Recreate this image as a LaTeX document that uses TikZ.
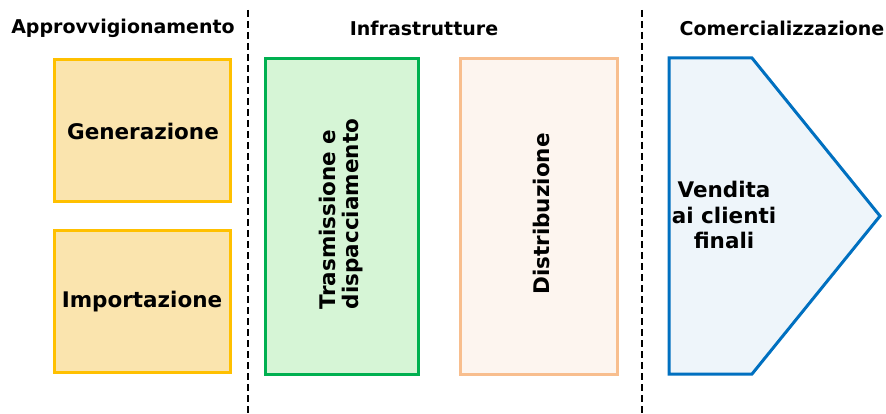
\documentclass[tikz,border=0pt]{standalone}
\usepackage{fontspec}
\setmainfont{DejaVu Sans}
\definecolor{yelB}{HTML}{FFC000}
\definecolor{yelF}{HTML}{FAE4AE}
\definecolor{grnB}{HTML}{00B050}
\definecolor{grnF}{HTML}{D6F5D6}
\definecolor{orgB}{HTML}{F8BE8E}
\definecolor{orgF}{HTML}{FDF5EF}
\definecolor{bluB}{HTML}{0070C0}
\definecolor{bluF}{HTML}{EEF5FA}
\begin{document}
\begin{tikzpicture}[x=1pt,y=-1pt,
  hdr/.style={font=\bfseries\fontsize{19}{22}\selectfont, anchor=center},
  box/.style={line width=3pt},
  lbl/.style={font=\bfseries\fontsize{21.5}{25}\selectfont, align=center},
  sep/.style={line width=1.3pt, dash pattern=on 7pt off 4pt}]
\useasboundingbox (0,0) rectangle (886,414);
\fill[white] (0,0) rectangle (886,414);
% separators
\coordinate (s1t) at (248,10); \coordinate (s1b) at (248,414);
\coordinate (s2t) at (642,10); \coordinate (s2b) at (642,414);
\draw[sep] (s1t) -- (s1b);
\draw[sep] (s2t) -- (s2b);
% headers
\node[hdr] (h1) at (123,28) {Approvvigionamento};
\node[hdr] (h2) at (424,28) {Infrastrutture};
\node[hdr] (h3) at (782,28) {Comercializzazione};
% boxes
\draw[box, draw=yelB, fill=yelF] (54,60) rectangle (230,202);
\node[lbl] (gen) at (143,131) {Generazione};
\draw[box, draw=yelB, fill=yelF] (54,231) rectangle (230,372);
\node[lbl] (imp) at (142,302) {Importazione};
\draw[box, draw=grnB, fill=grnF] (265,59) rectangle (418,374);
\node[lbl, rotate=90, align=left, font=\bfseries\fontsize{21.5}{23}\selectfont] (tra) at (341,214) {Trasmissione e\\dispacciamento};
\draw[box, draw=orgB, fill=orgF] (460,59) rectangle (617,374);
\node[lbl, rotate=90] (dis) at (541,214) {Distribuzione};
\draw[box, draw=bluB, fill=bluF, line join=miter] (669,58) -- (752,58) -- (880,216) -- (752,374) -- (669,374) -- cycle;
\node[lbl, font=\bfseries\fontsize{21.5}{25.5}\selectfont] (ven) at (724,215) {Vendita\\ai clienti\\finali};
\end{tikzpicture}
\end{document}
